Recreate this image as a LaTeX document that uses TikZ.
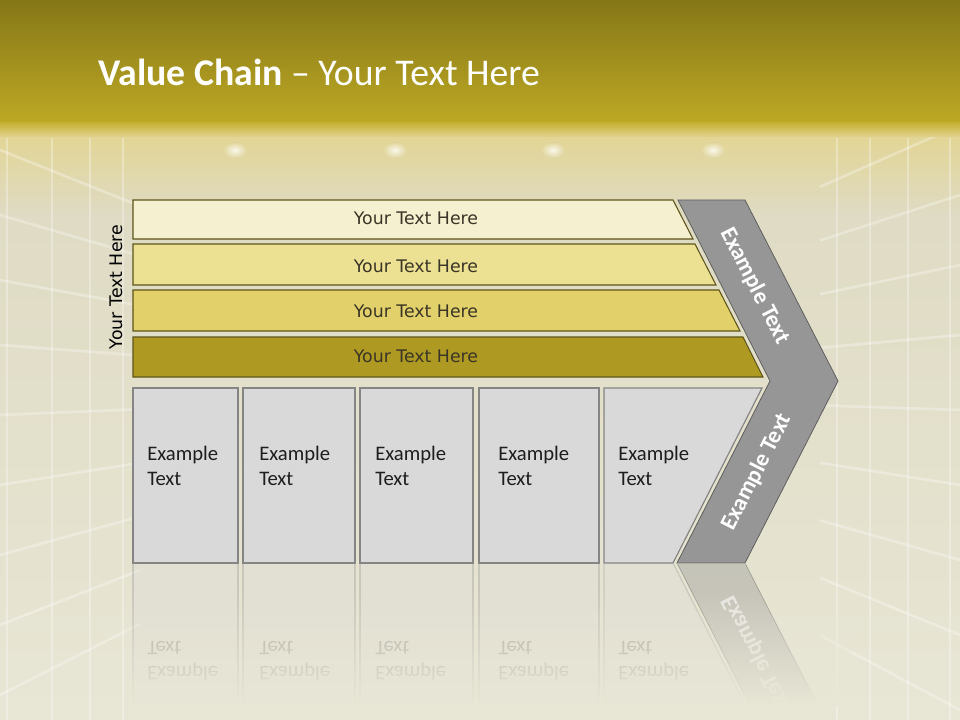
\documentclass[tikz,border=0pt]{standalone}
\usepackage{fontspec}
\setmainfont{Carlito}
\newfontfamily\dvs{DejaVu Sans}
\usetikzlibrary{fadings}
\definecolor{topA}{HTML}{857717}
\definecolor{topB}{HTML}{BEA925}
\definecolor{bandA}{HTML}{C6B133}
\definecolor{bandB}{HTML}{E2D596}
\definecolor{wallA}{HTML}{DFDBC4}
\definecolor{wallB}{HTML}{E8E6D5}
\definecolor{barline}{HTML}{5E5418}
\definecolor{barA}{HTML}{F5F0CF}
\definecolor{barB}{HTML}{ECE093}
\definecolor{barC}{HTML}{E2D16A}
\definecolor{barD}{HTML}{AE9A22}
\definecolor{bartxt}{HTML}{3A3526}
\definecolor{boxfill}{HTML}{D9D9D9}
\definecolor{boxline}{HTML}{858585}
\definecolor{boxtxt}{HTML}{1E1E1E}
\definecolor{chevfill}{HTML}{969696}
\definecolor{chevline}{HTML}{5F5F5F}
\tikzfading[name=fadein, top color=transparent!100, bottom color=transparent!0]
\tikzfading[name=glow, inner color=transparent!20, outer color=transparent!100]
\tikzset{
  barshape/.style={draw=barline, line width=0.8pt},
  bartext/.style={font=\dvs\fontsize{13}{15}\selectfont, text=bartxt, inner sep=0pt},
  boxshape/.style={fill=boxfill, draw=boxline, line width=0.9pt},
  boxtext/.style={font=\fontsize{15.5}{18.75}\selectfont, text=boxtxt, align=left, anchor=base west, inner sep=0pt},
  chevshape/.style={fill=chevfill, draw=chevline, line width=0.6pt},
  chevtext/.style={font=\bfseries\fontsize{17.5}{20}\selectfont, text=white, inner sep=0pt},
  joint/.style={draw=white, opacity=0.3, line width=2pt},
  lamp/.style={fill=white, path fading=glow},
  refl/.style={opacity=0.28},
}
\begin{document}
\begin{tikzpicture}[x=0.75pt,y=-0.75pt]
\useasboundingbox (0,0) rectangle (960,720);
% background
\shade[top color=topA, bottom color=topB] (0,0) rectangle (960,123);
\shade[top color=bandA, bottom color=bandB] (0,122.5) rectangle (960,138);
\shade[top color=bandB, bottom color=wallA] (0,137.5) rectangle (960,215);
\shade[top color=wallA, bottom color=wallB] (0,214.5) rectangle (960,720);
% wall tiles
\begin{scope}
\clip (0,138) rectangle (960,720);
\foreach \xx in {7,52,90,123} \draw[joint] (\xx,138) -- (\xx,720);
\foreach \xx in {837,870,908,950} \draw[joint] (\xx,138) -- (\xx,720);
\foreach \yy in {150,215,280,345,415,485,555,625,695}
  \draw[joint] (0,\yy) -- (140,{\yy+(390-\yy)/600*140});
\foreach \yy in {125,195,265,335,410,485,560,635,710}
  \draw[joint] (960,\yy) -- (820,{\yy+(390-\yy)/600*140});
\end{scope}
\foreach \lx in {235,395,553,713} \fill[lamp] (\lx,150) ellipse [x radius=12, y radius=8];
% title
\node[anchor=base west, inner sep=0pt, text=white, font=\fontsize{28.3}{32}\selectfont] (title) at (98,86)
  {\textbf{Value Chain} -- Your Text Here};
% bars
\draw[barshape, fill=barA] (133,200) -- (673,200) -- (693,239) -- (133,239) -- cycle;
\draw[barshape, fill=barB] (133,244) -- (695,244) -- (716,285) -- (133,285) -- cycle;
\draw[barshape, fill=barC] (133,290) -- (719,290) -- (740,331) -- (133,331) -- cycle;
\draw[barshape, fill=barD] (133,337) -- (743,337) -- (763,377) -- (133,377) -- cycle;
\node[bartext] (t1) at (416,218.5) {Your Text Here};
\node[bartext] (t2) at (416,266) {Your Text Here};
\node[bartext] (t3) at (416,311) {Your Text Here};
\node[bartext] (t4) at (416,356.5) {Your Text Here};
\node[bartext, text=black, font=\dvs\fontsize{13}{15}\selectfont, rotate=90] (side) at (116,287) {Your Text Here};
% boxes
\draw[boxshape] (133,388) rectangle (238,563);
\draw[boxshape] (243,388) rectangle (355,563);
\draw[boxshape] (360,388) rectangle (473,563);
\draw[boxshape] (479,388) rectangle (599,563);
\draw[boxshape] (604,388) -- (762,388) -- (673,563) -- (604,563) -- cycle;
\node[boxtext] (b1) at (147,485) {Example\\Text};
\node[boxtext] (b2) at (259,485) {Example\\Text};
\node[boxtext] (b3) at (375,485) {Example\\Text};
\node[boxtext] (b4) at (498,485) {Example\\Text};
\node[boxtext] (b5) at (618,485) {Example\\Text};
% chevron
\draw[chevshape] (678,200) -- (745,200) -- (838,381) -- (745,563) -- (677,563) -- (770,381) -- cycle;
\node[chevtext, rotate=-63] (c1) at (755,286) {Example Text};
\node[chevtext, rotate=63] (c2) at (757,472) {Example Text};
% reflection
\begin{scope}
\clip (0,564) rectangle (960,705);
\begin{scope}[shift={(0,1126)}, yscale=-1, transform shape]
\draw[boxshape, refl] (133,388) rectangle (238,563);
\draw[boxshape, refl] (243,388) rectangle (355,563);
\draw[boxshape, refl] (360,388) rectangle (473,563);
\draw[boxshape, refl] (479,388) rectangle (599,563);
\draw[boxshape, refl] (604,388) -- (762,388) -- (673,563) -- (604,563) -- cycle;
\draw[chevshape, opacity=0.4] (745,563) -- (677,563) -- (770,381) -- (838,381) -- cycle;
\node[boxtext, refl] (r1) at (147,485) {Example\\Text};
\node[boxtext, refl] (r2) at (259,485) {Example\\Text};
\node[boxtext, refl] (r3) at (375,485) {Example\\Text};
\node[boxtext, refl] (r4) at (498,485) {Example\\Text};
\node[boxtext, refl] (r5) at (618,485) {Example\\Text};
\node[chevtext, rotate=63, opacity=0.6] (rc) at (757,472) {Example Text};
\end{scope}
\end{scope}
\fill[wallB, path fading=fadein] (125,590) rectangle (850,706);
\end{tikzpicture}
\end{document}
